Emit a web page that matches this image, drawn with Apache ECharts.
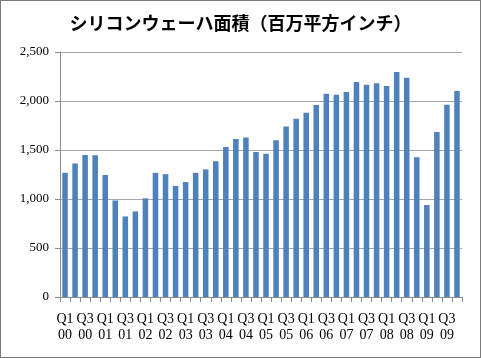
<!DOCTYPE html>
<html><head><meta charset="utf-8">
<script src="https://cdn.jsdelivr.net/npm/echarts@6/dist/echarts.min.js"></script>
<style>html,body{margin:0;padding:0;background:#fff}#c{width:481px;height:358px;box-sizing:border-box;border:1px solid #7a7a7a}</style>
</head><body><div id="c"></div>
<script>
const categories = [
 'Q1\n00','Q2\n00','Q3\n00','Q4\n00','Q1\n01','Q2\n01','Q3\n01','Q4\n01',
 'Q1\n02','Q2\n02','Q3\n02','Q4\n02','Q1\n03','Q2\n03','Q3\n03','Q4\n03',
 'Q1\n04','Q2\n04','Q3\n04','Q4\n04','Q1\n05','Q2\n05','Q3\n05','Q4\n05',
 'Q1\n06','Q2\n06','Q3\n06','Q4\n06','Q1\n07','Q2\n07','Q3\n07','Q4\n07',
 'Q1\n08','Q2\n08','Q3\n08','Q4\n08','Q1\n09','Q2\n09','Q3\n09','Q4\n09'];
const waferArea = [
 1267,1362,1449,1446,1245,985,822,873,
 1007,1267,1253,1133,1173,1267,1302,1386,
 1530,1612,1628,1480,1463,1600,1741,1819,
 1879,1960,2073,2063,2093,2194,2167,2181,
 2154,2295,2238,1426,938,1684,1963,2103];
const yTicks = {min:0, max:2500, interval:500};
const title = 'シリコンウェーハ面積（百万平方インチ）';

const chart = echarts.init(document.getElementById('c'));
const serif = '"Liberation Serif","DejaVu Serif",serif';
chart.setOption({
  animation:false,
  title:{text:title,left:'center',top:8,
    textStyle:{fontFamily:'"Noto Sans CJK JP"',fontSize:18,fontWeight:'bold',color:'#000'}},
  grid:{left:59,right:18,top:51,bottom:60,containLabel:false},
  xAxis:{type:'category',data:categories,
    axisLine:{lineStyle:{color:'#8c8c8c'}},
    axisTick:{show:true,interval:0,length:5,lineStyle:{color:'#8c8c8c'}},
    axisLabel:{interval:1,margin:14,fontFamily:serif,fontSize:14,color:'#000',lineHeight:16}},
  yAxis:{type:'value',min:yTicks.min,max:yTicks.max,interval:yTicks.interval,
    axisLine:{show:true,lineStyle:{color:'#8c8c8c'}},
    axisTick:{show:true,length:5,lineStyle:{color:'#8c8c8c'}},
    splitLine:{lineStyle:{color:'#a6a6a6'}},
    axisLabel:{fontFamily:serif,fontSize:13,color:'#000',margin:11,
      formatter:v=>v.toLocaleString('en-US')}},
  series:[{type:'bar',data:waferArea,barWidth:'55%',
    itemStyle:{color:'#4f81bd'}}]
});
</script></body></html>
